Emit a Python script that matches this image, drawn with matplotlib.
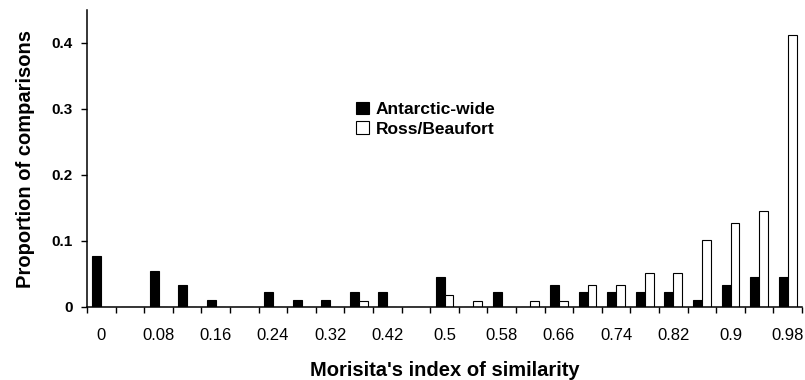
import matplotlib
matplotlib.use("Agg")
import matplotlib.pyplot as plt
import numpy as np

plt.rcParams['font.family'] = ['Liberation Sans', 'DejaVu Sans']

bins = ['0', '0.04', '0.08', '0.12', '0.16', '0.2', '0.24', '0.28', '0.32', '0.37',
        '0.42', '0.46', '0.5', '0.54', '0.58', '0.62', '0.66', '0.7', '0.74', '0.78',
        '0.82', '0.86', '0.9', '0.94', '0.98']
antarctic = [0.077, 0, 0.054, 0.034, 0.011, 0, 0.023, 0.011, 0.011, 0.023,
             0.023, 0, 0.045, 0, 0.023, 0, 0.034, 0.023, 0.023, 0.023,
             0.023, 0.011, 0.034, 0.045, 0.045]
ross = [0, 0, 0, 0, 0, 0, 0, 0, 0, 0.009,
        0, 0, 0.018, 0.009, 0, 0.009, 0.009, 0.034, 0.034, 0.052,
        0.052, 0.102, 0.127, 0.145, 0.412]

x = np.arange(len(bins))
w = 0.31

fig = plt.figure(figsize=(8.05, 3.8), dpi=100)
ax = fig.add_axes([87/805, 1 - 307/380, 715/805, 297/380])

ax.bar(x - w/2, antarctic, w, color='black', edgecolor='black', linewidth=0.8, label='Antarctic-wide')
ax.bar(x + w/2, ross, w, color='white', edgecolor='black', linewidth=0.8, label='Ross/Beaufort')

ax.set_xlim(-0.5, len(bins) - 0.5)
ax.set_ylim(0, 0.45)

# labels at every other bin centre, ticks at bin edges
ax.set_xticks(x[::2])
ax.set_xticklabels(bins[::2], fontsize=12)
ax.set_xticks(np.arange(-0.5, len(bins)), minor=True)
ax.tick_params(axis='x', which='major', length=0, pad=15)
ax.tick_params(axis='x', which='minor', length=4, width=1, direction='out')

ax.set_yticks([0, 0.1, 0.2, 0.3, 0.4])
ax.set_yticklabels(['0', '0.1', '0.2', '0.3', '0.4'], fontsize=11, fontweight='bold')
ax.tick_params(axis='y', length=4, width=1, direction='out', pad=6)

for s in ['top', 'right']:
    ax.spines[s].set_visible(False)
for s in ['left', 'bottom']:
    ax.spines[s].set_linewidth(1.1)

ax.set_xlabel("Morisita's index of similarity", fontsize=14.5, fontweight='bold', labelpad=13)
ax.set_ylabel("Proportion of comparisons", fontsize=14.5, fontweight='bold', labelpad=12)

ax.legend(loc='upper left', bbox_to_anchor=(347/805, 1 - 93/380), bbox_transform=fig.transFigure,
          frameon=False, prop={'weight': 'bold', 'size': 12.5},
          handlelength=0.75, handleheight=0.75, handletextpad=0.4, labelspacing=0.25, borderpad=0)

fig.savefig('out.png', dpi=100)
